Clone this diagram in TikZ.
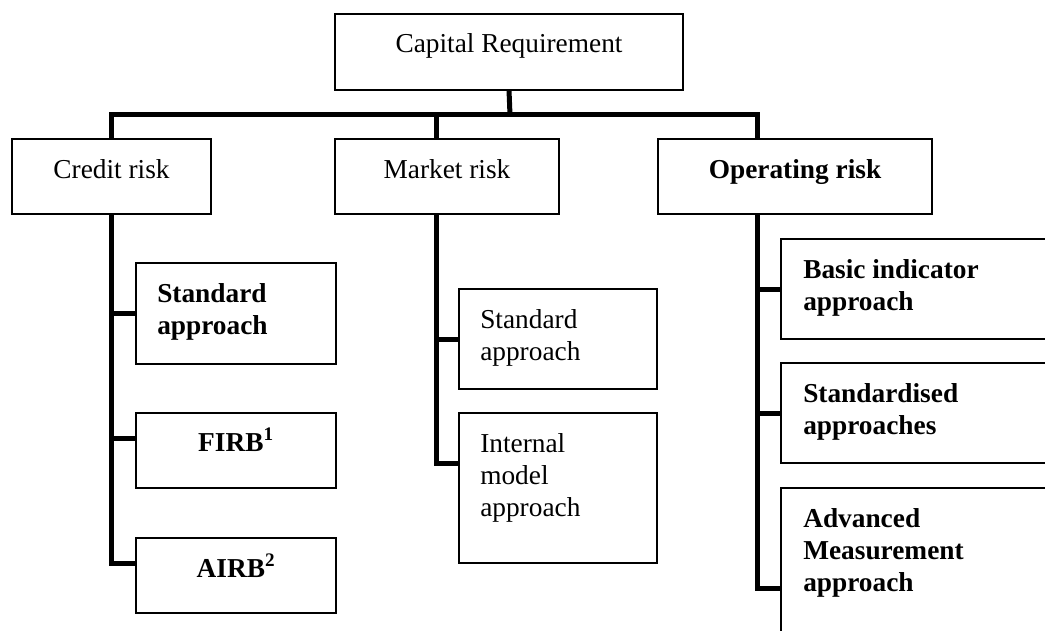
\documentclass[tikz,border=0pt]{standalone}
\usepackage{fontspec}
\setmainfont{Liberation Serif}
\begin{document}
\begin{tikzpicture}[x=0.75pt,y=-0.75pt,
  box/.style={draw=black,line width=1.4pt,fill=white,rectangle,inner sep=0pt,outer sep=0pt,anchor=north west},
  lbl/.style={inner sep=0pt,font=\fontsize{20.5}{24}\selectfont},
  conn/.style={draw=black,line width=3.75pt,line join=miter,line cap=butt}]
\useasboundingbox (0,0) rectangle (1045,631);
\clip (0,0) rectangle (1045,631);

% coordinates for junctions
\coordinate (jt) at (510,115);
\coordinate (jm) at (436,115);
\coordinate (jo) at (757,115);
\coordinate (c2) at (0,438);
\coordinate (ca) at (0,563);
\coordinate (mi) at (0,463);

% boxes (geometry only)
\path (335,14) node[box,minimum width=261pt,minimum height=57pt] (cap) {};
\path (12,139) node[box,minimum width=149.25pt,minimum height=56.25pt] (cr) {};
\path (335,139) node[box,minimum width=168pt,minimum height=56.25pt] (mr) {};
\path (658,139) node[box,minimum width=205.5pt,minimum height=56.25pt] (or) {};
\path (136,263) node[box,minimum width=150pt,minimum height=75.75pt] (csa) {};
\path (136,413) node[box,minimum width=150pt,minimum height=56.25pt] (firb) {};
\path (136,538) node[box,minimum width=150pt,minimum height=56.25pt] (airb) {};
\path (459,289) node[box,minimum width=148.5pt,minimum height=75pt] (msa) {};
\path (459,413) node[box,minimum width=148.5pt,minimum height=112.5pt] (ima) {};
\path (781,239) node[box,minimum width=217.5pt,minimum height=75pt] (bia) {};
\path (781,363) node[box,minimum width=217.5pt,minimum height=75pt] (sda) {};
\path (781,488) node[box,minimum width=217.5pt,minimum height=150pt] (ama) {};

% connectors
\draw[conn] (cap.south) -- (jt);
\draw[conn] (cr.north) |- (jo) -- (jo |- or.north);
\draw[conn] (jm) -- (jm |- mr.north);
\draw[conn] (cr.south) |- (airb.west |- ca);
\draw[conn] (cr.south |- csa.west) -- (csa.west);
\draw[conn] (cr.south |- c2) -- (firb.west |- c2);
\draw[conn] (jm |- mr.south) |- (ima.west |- mi);
\draw[conn] (jm |- msa.west) -- (msa.west);
\draw[conn] (jo |- or.south) |- (ama.west);
\draw[conn] (jo |- bia.west) -- (bia.west);
\draw[conn] (jo |- sda.west) -- (sda.west);

% redraw box borders on top
\foreach \n in {cap,cr,mr,or,csa,firb,airb,msa,ima,bia,sda,ama}
  \draw[line width=1.4pt] (\n.north west) rectangle (\n.south east);

% labels
\node[lbl,anchor=base] (tcap) at (509,53) {Capital Requirement};
\node[lbl,anchor=base] (tcr) at (111.5,178) {Credit risk};
\node[lbl,anchor=base] (tmr) at (447,178) {Market risk};
\node[lbl,anchor=base] (tor) at (795,178) {\bfseries Operating risk};
\node[lbl,anchor=base west] (tcsa) at (157,302) {\bfseries\begin{tabular}[t]{@{}l@{}}Standard\\approach\end{tabular}};
\node[lbl,anchor=base] (tfirb) at (236,451) {\bfseries FIRB\textsuperscript{1}};
\node[lbl,anchor=base] (tairb) at (236,577) {\bfseries AIRB\textsuperscript{2}};
\node[lbl,anchor=base west] (tmsa) at (480,328) {\begin{tabular}[t]{@{}l@{}}Standard\\approach\end{tabular}};
\node[lbl,anchor=base west] (tima) at (480,452) {\begin{tabular}[t]{@{}l@{}}Internal\\model\\approach\end{tabular}};
\node[lbl,anchor=base west] (tbia) at (803,278) {\bfseries\begin{tabular}[t]{@{}l@{}}Basic indicator\\approach\end{tabular}};
\node[lbl,anchor=base west] (tsda) at (803,402) {\bfseries\begin{tabular}[t]{@{}l@{}}Standardised\\approaches\end{tabular}};
\node[lbl,anchor=base west] (tama) at (803,527) {\bfseries\begin{tabular}[t]{@{}l@{}}Advanced\\Measurement\\approach\end{tabular}};
\end{tikzpicture}
\end{document}
